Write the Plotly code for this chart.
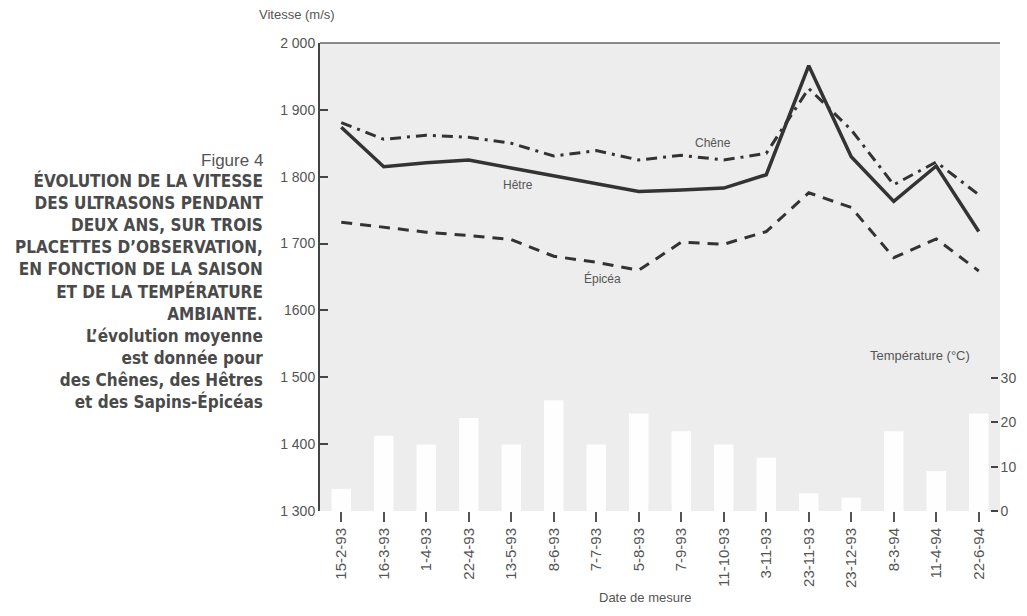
import plotly.graph_objects as go

dates = ["15-2-93", "16-3-93", "1-4-93", "22-4-93", "13-5-93", "8-6-93", "7-7-93", "5-8-93",
         "7-9-93", "11-10-93", "3-11-93", "23-11-93", "23-12-93", "8-3-94", "11-4-94", "22-6-94"]
hetre = [1874, 1815, 1821, 1825, 1813, 1801, 1789, 1778, 1780, 1783, 1803, 1966, 1830, 1763, 1816, 1718]
chene = [1881, 1856, 1862, 1859, 1850, 1831, 1839, 1825, 1832, 1825, 1835, 1932, 1870, 1788, 1822, 1773]
epicea = [1732, 1724, 1717, 1712, 1706, 1681, 1672, 1660, 1702, 1699, 1718, 1776, 1754, 1679, 1707, 1659]
temperature = [5, 17, 15, 21, 15, 25, 15, 22, 18, 15, 12, 4, 3, 18, 9, 22]

v_ticks = [1300, 1400, 1500, 1600, 1700, 1800, 1900, 2000]
v_labels = ["1 300", "1 400", "1 500", "1600", "1 700", "1 800", "1 900", "2 000"]
t_ticks = [0, 10, 20, 30]
t_labels = ["0", "10", "20", "30"]

caption_title = "Figure 4"
caption_lines = ["ÉVOLUTION DE LA VITESSE", "DES ULTRASONS PENDANT", "DEUX ANS, SUR TROIS",
                 "PLACETTES D’OBSERVATION,", "EN FONCTION DE LA SAISON", "ET DE LA TEMPÉRATURE",
                 "AMBIANTE.", "L’évolution moyenne", "est donnée pour",
                 "des Chênes, des Hêtres", "et des Sapins-Épicéas"]

FONT = "Liberation Sans, Arial, sans-serif"
NARROW = "Liberation Sans Narrow, DejaVu Sans Condensed, Arial Narrow, sans-serif"
GREY = "#555555"
LINE = "#333333"

fig = go.Figure()

fig.add_trace(go.Bar(x=dates, y=temperature, yaxis="y2", width=0.46,
                     marker=dict(color="rgba(255,255,255,0.9)", line=dict(width=0)),
                     showlegend=False, hoverinfo="skip"))

fig.add_trace(go.Scatter(x=dates, y=chene, mode="lines", name="Chêne",
                         line=dict(color=LINE, width=3, dash="11px,6px,3px,6px"), showlegend=False))
fig.add_trace(go.Scatter(x=dates, y=epicea, mode="lines", name="Épicéa",
                         line=dict(color=LINE, width=3, dash="11px,8px"), showlegend=False))
fig.add_trace(go.Scatter(x=dates, y=hetre, mode="lines", name="Hêtre",
                         line=dict(color=LINE, width=3.5), showlegend=False))

fig.update_layout(
    width=1011, height=600,
    margin=dict(l=312, r=19, t=35, b=97, autoexpand=False),
    paper_bgcolor="white",
    plot_bgcolor="#ededed",
    font=dict(family=FONT, color=GREY, size=14),
    xaxis=dict(
        type="category", range=[-0.5, 15.5], automargin=False,
        showline=False, showgrid=False, zeroline=False,
        ticks="outside", ticklen=10, tickwidth=1.5, tickcolor=GREY,
        tickangle=-90, tickfont=dict(size=15, color=GREY, family=FONT),
    ),
    yaxis=dict(
        range=[1300, 2000], tickvals=v_ticks, ticktext=v_labels, automargin=False,
        showline=True, linecolor="#444444", linewidth=2,
        showgrid=False, zeroline=False,
        ticks="inside", ticklen=8, tickwidth=2, tickcolor="#444444",
        tickfont=dict(size=14, color=GREY, family=FONT),
    ),
    yaxis2=dict(
        overlaying="y", side="right", anchor="free", position=0.985, automargin=False,
        range=[0, 105.6], tickvals=t_ticks, ticktext=t_labels,
        showline=False, showgrid=False, zeroline=False,
        ticks="outside", ticklen=7, tickwidth=2, tickcolor="#444444",
        tickfont=dict(size=14, color=GREY, family=FONT),
    ),
    shapes=[dict(type="line", xref="paper", yref="paper", x0=0, x1=1, y0=1, y1=1,
                 line=dict(color="#666666", width=1.5))],
)

annotations = [
    dict(text="Vitesse (m/s)", xref="paper", yref="paper", x=-0.092, y=1.06,
         xanchor="left", yanchor="middle", showarrow=False, font=dict(size=13, color=GREY)),
    dict(text="Date de mesure", xref="paper", yref="paper", x=0.478, y=-0.184,
         xanchor="center", yanchor="middle", showarrow=False, font=dict(size=13, color=GREY)),
    dict(text="Température (°C)", xref="paper", yref="paper", x=0.882, y=0.333,
         xanchor="center", yanchor="middle", showarrow=False, font=dict(size=13, color=GREY)),
    dict(text="Chêne", x=8.75, y=1850, xref="x", yref="y", showarrow=False,
         font=dict(size=12, color=GREY)),
    dict(text="Hêtre", x=4.17, y=1787, xref="x", yref="y", showarrow=False,
         font=dict(size=12, color=GREY)),
    dict(text="Épicéa", x=6.15, y=1648, xref="x", yref="y", showarrow=False,
         font=dict(size=12, color=GREY)),
    dict(text=caption_title, xref="paper", yref="paper", x=-0.081, y=0.75,
         xanchor="right", yanchor="middle", showarrow=False, align="right",
         font=dict(size=17, color=GREY, family=FONT)),
    dict(text="<b>" + "<br>".join(caption_lines) + "</b>", xref="paper", yref="paper",
         x=-0.081, y=0.471, xanchor="right", yanchor="middle", showarrow=False, align="right",
         font=dict(size=17, color="#4a4a4a", family=NARROW)),
]
fig.update_layout(annotations=annotations)

fig.write_html("out.html")
